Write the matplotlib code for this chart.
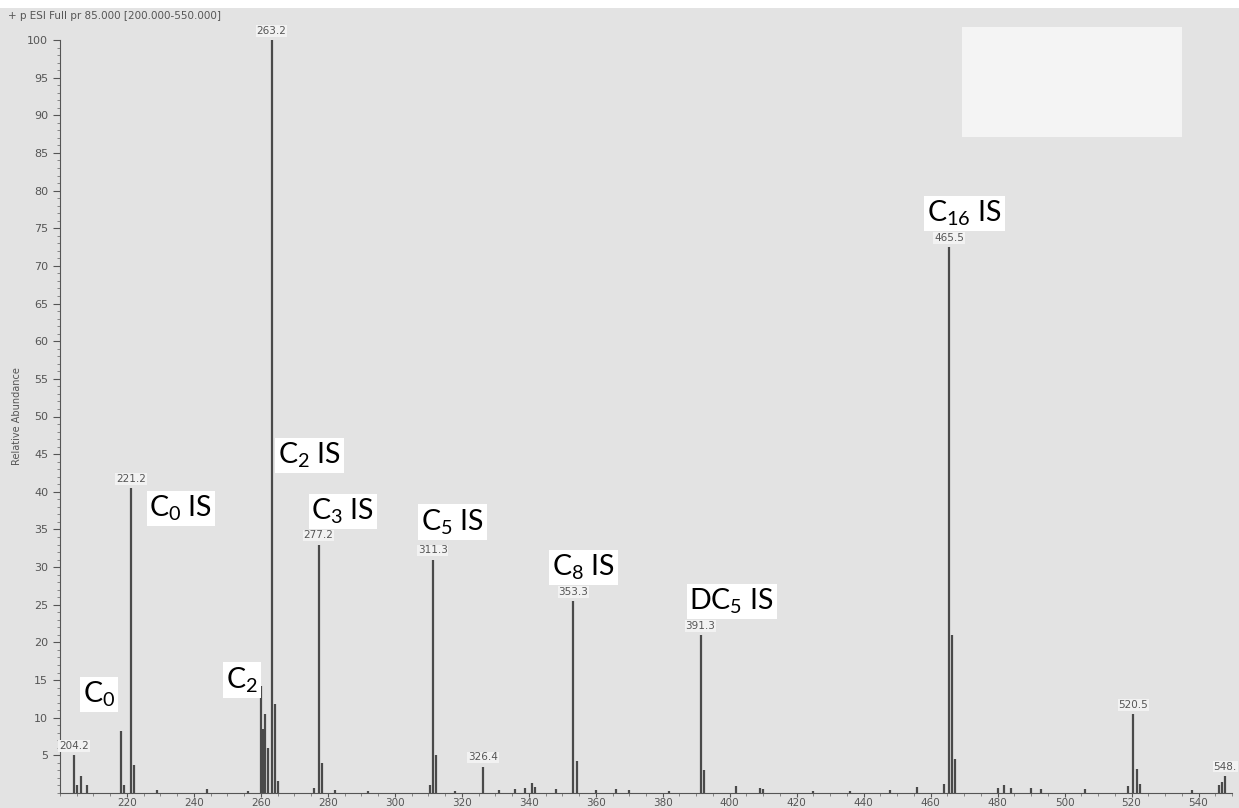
import numpy as np
import matplotlib.pyplot as plt

plt.rcParams['mathtext.fontset'] = 'custom'
plt.rcParams['mathtext.rm'] = 'Lato'
plt.rcParams['mathtext.it'] = 'Lato:italic'

# peaks (m/z, relative abundance)
mz = [204.2, 205.0, 206.2, 208.2, 218.2, 219.0, 221.2, 222.2, 229.0, 244.0, 256.0,
      260.0, 260.6, 261.2, 262.0, 263.2, 264.2, 265.2, 276.0, 277.2, 278.2, 282.0, 292.0,
      310.5, 311.3, 312.3, 318.0, 326.4, 331.0, 336.0, 339.0, 341.0, 342.0, 348.0,
      353.3, 354.3, 360.0, 366.0, 370.0, 382.0, 391.3, 392.3, 402.0, 409.0, 410.0,
      425.0, 436.0, 448.0, 456.0, 464.0, 465.5, 466.5, 467.3, 480.0, 482.0, 484.0,
      490.0, 493.0, 506.0, 519.0, 520.5, 521.5, 522.5, 538.0, 546.0, 547.0, 548.0]
inten = [5.0, 1.0, 2.3, 1.1, 8.3, 1.0, 40.5, 3.7, 0.4, 0.5, 0.3,
         14.2, 8.5, 10.5, 6.0, 100.0, 11.8, 1.6, 0.6, 33.0, 4.0, 0.4, 0.3,
         1.0, 31.0, 5.0, 0.3, 3.5, 0.4, 0.5, 0.7, 1.3, 0.8, 0.5,
         25.5, 4.3, 0.4, 0.5, 0.4, 0.3, 21.0, 3.0, 0.9, 0.6, 0.5,
         0.3, 0.3, 0.4, 0.8, 1.2, 72.5, 21.0, 4.5, 0.7, 1.0, 0.7,
         0.6, 0.5, 0.5, 0.9, 10.5, 3.2, 1.2, 0.4, 1.0, 1.5, 2.3]

# labelled peaks
lab_mz = [204.2, 221.2, 263.2, 277.2, 311.3, 326.4, 353.3, 391.3, 465.5, 520.5, 548.0]
lab_int = [5.0, 40.5, 100.0, 33.0, 31.0, 3.5, 25.5, 21.0, 72.5, 10.5, 2.3]
lab_txt = ['204.2', '221.2', '263.2', '277.2', '311.3', '326.4', '353.3', '391.3',
           '465.5', '520.5', '548.']

# compound annotations
names = [r'C$_{\mathrm{0}}$', r'C$_{\mathrm{0}}$ IS', r'C$_{\mathrm{2}}$', r'C$_{\mathrm{2}}$ IS',
         r'C$_{\mathrm{3}}$ IS', r'C$_{\mathrm{5}}$ IS', r'C$_{\mathrm{8}}$ IS',
         r'DC$_{\mathrm{5}}$ IS', r'C$_{\mathrm{16}}$ IS']
name_x = [211.6, 236.1, 254.3, 274.6, 284.5, 317.3, 356.4, 400.6, 470.1]
name_y = [13.1, 37.8, 15.0, 44.8, 37.4, 36.0, 30.0, 25.4, 77.0]

bg = '#e3e3e3'
fig = plt.figure(figsize=(12.39, 8.08), dpi=100, facecolor=bg)
ax = fig.add_axes([60/1239, 15/808, 1172/1239, 753/808])
ax.set_facecolor(bg)

ax.vlines(mz, 0, inten, color='#4a4a4a', lw=1.6)

for x, y, t in zip(lab_mz, lab_int, lab_txt):
    ax.annotate(t, (x, y), xytext=(0, 3), textcoords='offset points', ha='center',
                va='bottom', fontsize=7.5, color='#555555',
                bbox=dict(fc='#f2f2f2', ec='none', pad=0.6), zorder=3)

for x, y, t in zip(name_x, name_y, names):
    ax.text(x, y, t, ha='center', va='center', fontsize=20.5, family='Lato',
            color='black', bbox=dict(fc='white', ec='none', pad=2), zorder=4)

ax.set_xlim(200, 550)
ax.set_ylim(0, 100)
ax.set_xticks(np.arange(220, 541, 20))
ax.set_xticks(np.arange(200, 551, 5), minor=True)
ax.set_yticks(np.arange(5, 101, 5))
ax.set_yticks(np.arange(0, 101, 1), minor=True)
ax.tick_params(labelsize=8, colors='#555555', length=5)
ax.tick_params(which='minor', length=2.5, colors='#777777')
ax.tick_params(axis='x', which='major', length=3, pad=0.5, labelsize=7.5)
for s in ['top', 'right']:
    ax.spines[s].set_visible(False)
for s in ['left', 'bottom']:
    ax.spines[s].set_color('#555555')
ax.set_ylabel('Relative Abundance', fontsize=7, color='#555555', labelpad=4)

# header text and white patches from the scan
fig.patches.append(plt.Rectangle((0, 1 - 8/808), 1, 8/808, transform=fig.transFigure,
                                 fc='white', ec='none'))
fig.patches.append(plt.Rectangle((962/1239, 1 - 137/808), 220/1239, 110/808,
                                 transform=fig.transFigure, fc='#f4f4f4', ec='none'))
fig.text(8/1239, 1 - 16/808, '+ p ESI Full pr 85.000 [200.000-550.000]', fontsize=7.5,
         color='#555555', va='center')

fig.savefig('out.png', dpi=100, facecolor=bg)
